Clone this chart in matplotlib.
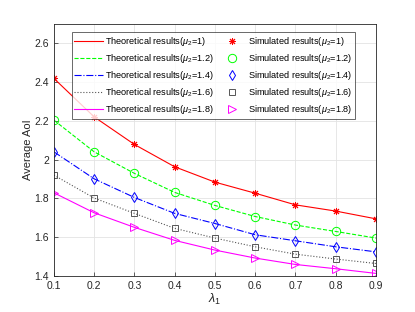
import numpy as np
import matplotlib.pyplot as plt

plt.rcParams['font.family'] = ['Liberation Sans', 'DejaVu Sans']
plt.rcParams['mathtext.fontset'] = 'custom'
plt.rcParams['mathtext.it'] = 'Liberation Sans:italic'
plt.rcParams['mathtext.rm'] = 'Liberation Sans'

lam = [0.1, 0.2, 0.3, 0.4, 0.5, 0.6, 0.7, 0.8, 0.9]
mu_labels = ['1', '1.2', '1.4', '1.6', '1.8']

# theoretical curves
theo_1 = [2.418, 2.220, 2.078, 1.963, 1.884, 1.827, 1.767, 1.735, 1.695]
theo_12 = [2.203, 2.040, 1.929, 1.831, 1.764, 1.707, 1.663, 1.630, 1.596]
theo_14 = [2.040, 1.901, 1.805, 1.723, 1.671, 1.613, 1.582, 1.551, 1.525]
theo_16 = [1.920, 1.802, 1.723, 1.646, 1.596, 1.551, 1.513, 1.488, 1.465]
theo_18 = [1.829, 1.726, 1.651, 1.584, 1.534, 1.493, 1.460, 1.438, 1.414]

# simulated points
sim_1 = [2.418, 2.220, 2.078, 1.963, 1.884, 1.827, 1.767, 1.735, 1.695]
sim_12 = [2.203, 2.040, 1.929, 1.831, 1.764, 1.707, 1.663, 1.630, 1.596]
sim_14 = [2.040, 1.901, 1.805, 1.723, 1.671, 1.613, 1.582, 1.551, 1.525]
sim_16 = [1.920, 1.802, 1.723, 1.646, 1.596, 1.551, 1.513, 1.488, 1.465]
sim_18 = [1.829, 1.726, 1.651, 1.584, 1.534, 1.493, 1.460, 1.438, 1.414]

theo = [theo_1, theo_12, theo_14, theo_16, theo_18]
sim = [sim_1, sim_12, sim_14, sim_16, sim_18]
colors = ['#ff0000', '#00ff00', '#0000ff', '#555555', '#ff00ff']
styles = ['-', '--', '-.', ':', '-']
markers = [(8, 2, 0), 'o', 'd', 's', '>']
msizes = [5, 6, 5, 4, 6]

fig = plt.figure(figsize=(4.15, 3.12), dpi=100)
ax = fig.add_axes([0.130, 0.115, 0.776, 0.809])

handles_t = []
handles_s = []
for i in range(5):
    h, = ax.plot(lam, theo[i], color=colors[i], linestyle=styles[i], linewidth=0.8,
                 label=r'Theoretical results($\mu_2$=' + mu_labels[i] + ')')
    handles_t.append(h)
for i in range(5):
    h, = ax.plot(lam, sim[i], linestyle='none', marker=markers[i], markersize=msizes[i],
                 markerfacecolor='none', markeredgecolor=colors[i], markeredgewidth=0.7,
                 label=r'Simulated results($\mu_2$=' + mu_labels[i] + ')')
    handles_s.append(h)

ax.set_xlim(0.1, 0.9)
ax.set_ylim(1.4, 2.7)
ax.set_xticks(lam)
ax.set_xticklabels(['0.1', '0.2', '0.3', '0.4', '0.5', '0.6', '0.7', '0.8', '0.9'])
ax.set_yticks([1.4, 1.6, 1.8, 2.0, 2.2, 2.4, 2.6])
ax.set_yticklabels(['1.4', '1.6', '1.8', '2', '2.2', '2.4', '2.6'])
ax.tick_params(direction='in', labelsize=7.5, colors='#262626', length=3, width=0.5)
ax.grid(True, color='#e3e3e3', linewidth=0.6)
for s in ax.spines.values():
    s.set_color('#262626')
    s.set_linewidth(0.6)

ax.set_xlabel(r'$\lambda_1$', fontsize=9, color='#262626', labelpad=1)
ax.set_ylabel('Average AoI', fontsize=8, color='#262626', labelpad=1)

leg = ax.legend(handles_t + handles_s, [h.get_label() for h in handles_t + handles_s],
                ncol=2, fontsize=6.6, loc='upper left', bbox_to_anchor=(0.055, 0.967),
                borderaxespad=0, frameon=True, fancybox=False, edgecolor='#262626',
                handlelength=3.1, handletextpad=0.2, columnspacing=0.5,
                labelspacing=0.45, borderpad=0.3)
leg.get_frame().set_linewidth(0.6)

fig.savefig('out.png', dpi=100)
